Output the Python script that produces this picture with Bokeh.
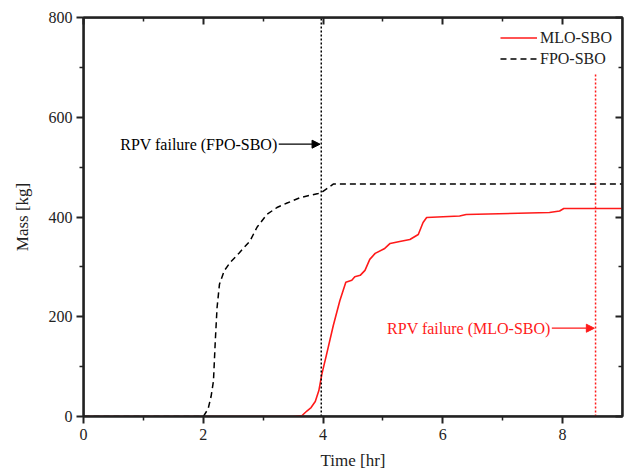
from bokeh.plotting import figure
from bokeh.models import (LinearAxis, Range1d, Legend, LegendItem, Label, Arrow,
                          NormalHead, FixedTicker, BoxAnnotation)
from bokeh.embed import file_html
from bokeh.resources import INLINE

# ---- data ----
mlo_time = [0.0, 3.50, 3.65, 3.73, 3.80, 3.87, 3.93, 3.98, 4.05, 4.17, 4.28, 4.38,
            4.48, 4.53, 4.62, 4.70, 4.78, 4.87, 5.03, 5.12, 5.28, 5.45, 5.59, 5.67,
            5.73, 6.28, 6.39, 7.78, 7.95, 8.02, 9.0]
mlo_mass = [0, 0, 2, 11, 18, 30, 52, 85, 120, 182, 232, 269,
            273, 280, 283, 293, 315, 327, 337, 347, 351, 355, 365, 389,
            399, 402, 405, 409, 412, 417, 417]

fpo_time = [0.0, 2.00, 2.08, 2.13, 2.17, 2.20, 2.23, 2.27, 2.35, 2.45, 2.60, 2.78,
            2.90, 3.06, 3.23, 3.40, 3.62, 3.80, 3.92, 3.97, 4.17, 9.0]
fpo_mass = [0, 0, 15, 40, 71, 150, 218, 265, 292, 309, 328, 352,
            380, 405, 419, 428, 439, 444, 447, 449, 466, 466]

failure_time_fpo = [3.97]
failure_time_mlo = [8.55]
failure_line_bottom = [0]
failure_line_top_fpo = [800]
failure_line_top_mlo = [686]

x_major_ticks = [0, 2, 4, 6, 8]
x_minor_ticks = [1, 3, 5, 7]
y_major_ticks = [0, 200, 400, 600, 800]
y_minor_ticks = [100, 300, 500, 700]

# ---- style ----
FONT = "Liberation Serif"
RED = "#ff1a1a"
AXC = "#222222"

p = figure(output_backend="svg", toolbar_location=None,
           width=626, height=473,
           x_range=Range1d(0, 9), y_range=Range1d(0, 800),
           min_border_left=83, min_border_right=4, min_border_top=17, min_border_bottom=57)
p.xgrid.visible = False
p.ygrid.visible = False
p.outline_line_color = AXC
p.outline_line_width = 2
p.background_fill_color = "white"
p.border_fill_color = "white"

# data lines (red first so the black dashes sit on top along the floor)
r_mlo = p.line(mlo_time, mlo_mass, line_color=RED, line_width=1.6)
r_fpo = p.line(fpo_time, fpo_mass, line_color="black", line_width=1.5, line_dash="6 4")

# failure markers
p.segment(x0=failure_time_fpo, y0=failure_line_bottom, x1=failure_time_fpo, y1=failure_line_top_fpo,
          line_color="black", line_width=1.5, line_dash="2 2")
p.segment(x0=failure_time_mlo, y0=failure_line_bottom, x1=failure_time_mlo, y1=failure_line_top_mlo,
          line_color=RED, line_width=1.5, line_dash="2 2")

# plot frame as a box annotation over the whole data area
p.add_layout(BoxAnnotation(fill_alpha=0, line_color=AXC, line_width=2, line_alpha=1))

# annotations
p.add_layout(Arrow(end=NormalHead(size=8, fill_color="black", line_color="black"),
                   x_start=3.26, y_start=546, x_end=failure_time_fpo[0] - 0.02, y_end=546,
                   line_color="black", line_width=1.3))
p.add_layout(Label(x=3.24, y=546, text="RPV failure (FPO-SBO)", text_align="right",
                   text_baseline="middle", text_font=FONT, text_font_size="16px",
                   text_color="black"))
p.add_layout(Arrow(end=NormalHead(size=8, fill_color=RED, line_color=RED),
                   x_start=7.82, y_start=177, x_end=failure_time_mlo[0] - 0.02, y_end=177,
                   line_color=RED, line_width=1.3))
p.add_layout(Label(x=7.80, y=177, text="RPV failure (MLO-SBO)", text_align="right",
                   text_baseline="middle", text_font=FONT, text_font_size="16px",
                   text_color=RED))

def style_axis(ax, inward):
    ax.axis_line_width = 2
    ax.axis_line_color = AXC
    ax.major_tick_line_width = 2
    ax.minor_tick_line_width = 1.5
    ax.major_tick_line_color = AXC
    ax.minor_tick_line_color = AXC
    if inward:
        ax.major_tick_in = 7
        ax.major_tick_out = 0
        ax.minor_tick_in = 4
        ax.minor_tick_out = 0
    else:
        ax.major_tick_in = 0
        ax.major_tick_out = 7
        ax.minor_tick_in = 0
        ax.minor_tick_out = 4
    ax.major_label_text_font = FONT
    ax.major_label_text_font_size = "16px"
    ax.major_label_text_color = "#222222"
    ax.axis_label_text_font = FONT
    ax.axis_label_text_font_size = "17px"
    ax.axis_label_text_font_style = "normal"
    ax.axis_label_text_color = "#222222"

xa = p.xaxis[0]
xa.ticker = FixedTicker(ticks=x_major_ticks, minor_ticks=x_minor_ticks)
xa.axis_label = "Time [hr]"
style_axis(xa, False)
xa.major_label_standoff = 5
xa.axis_label_standoff = 8

ya = p.yaxis[0]
ya.ticker = FixedTicker(ticks=y_major_ticks, minor_ticks=y_minor_ticks)
ya.axis_label = "Mass [kg]"
style_axis(ya, False)
ya.major_label_standoff = 4
ya.axis_label_standoff = 14

top = LinearAxis(ticker=FixedTicker(ticks=x_major_ticks, minor_ticks=x_minor_ticks))
style_axis(top, True)
top.major_label_text_font_size = "1px"
top.major_label_text_alpha = 0
top.major_label_standoff = 0
p.add_layout(top, "above")
right = LinearAxis(ticker=FixedTicker(ticks=y_major_ticks, minor_ticks=y_minor_ticks))
style_axis(right, True)
right.major_label_text_font_size = "1px"
right.major_label_text_alpha = 0
right.major_label_standoff = 0
p.add_layout(right, "right")

legend = Legend(items=[LegendItem(label="MLO-SBO", renderers=[r_mlo]),
                       LegendItem(label="FPO-SBO", renderers=[r_fpo])],
                location="top_right")
legend.border_line_color = None
legend.background_fill_alpha = 0
legend.label_text_font = FONT
legend.label_text_font_size = "16px"
legend.label_text_color = "#222222"
legend.glyph_width = 37
legend.glyph_height = 21
legend.label_height = 21
legend.label_standoff = 3
legend.spacing = 0
legend.padding = 8
legend.margin = 10
p.add_layout(legend)

open("out.html", "w").write(file_html(p, INLINE))
